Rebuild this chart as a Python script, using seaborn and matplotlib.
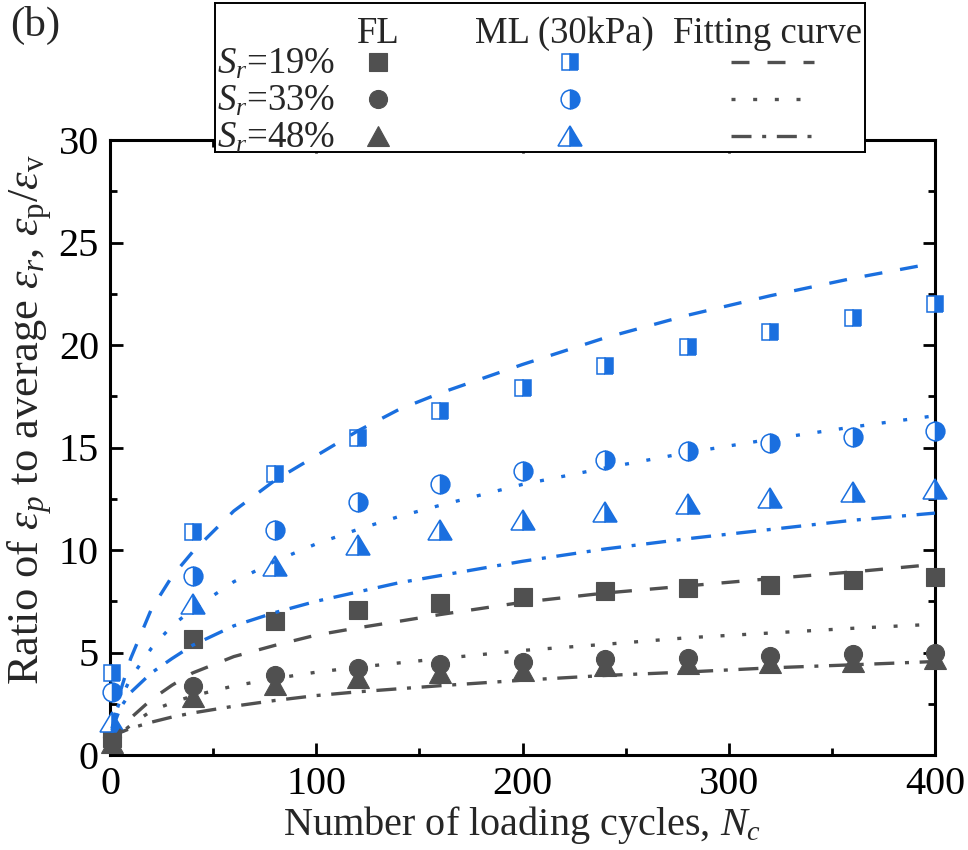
import matplotlib
matplotlib.use("Agg")
import matplotlib.pyplot as plt
from matplotlib.markers import MarkerStyle
from matplotlib.transforms import Affine2D
from matplotlib.ticker import MultipleLocator
import numpy as np
import pandas as pd
import seaborn as sns

# ---------------- data ----------------
cycles = [1, 40, 80, 120, 160, 200, 240, 280, 320, 360, 400]

fl_19 = [0.85, 5.64, 6.56, 7.05, 7.43, 7.72, 7.98, 8.17, 8.31, 8.52, 8.67]
fl_33 = [0.90, 3.38, 3.90, 4.23, 4.44, 4.55, 4.70, 4.75, 4.84, 4.93, 5.00]
fl_48 = [0.58, 2.84, 3.41, 3.74, 4.00, 4.12, 4.36, 4.44, 4.51, 4.56, 4.66]

ml_19 = [4.01, 10.90, 13.69, 15.45, 16.78, 17.89, 18.99, 19.89, 20.62, 21.30, 21.98]
ml_33 = [3.09, 8.75, 11.00, 12.33, 13.20, 13.85, 14.39, 14.83, 15.20, 15.53, 15.80]
ml_48 = [1.63, 7.35, 9.20, 10.26, 10.98, 11.46, 11.87, 12.24, 12.52, 12.81, 13.00]

fit_cycles = [1, 2, 5, 10, 20, 30, 40, 60, 80, 100, 120, 140, 160, 200, 240, 280, 320, 360, 400]
fit_ml_19 = [1.2, 1.8, 3.1, 4.7, 7.1, 8.7, 9.9, 11.9, 13.4, 14.6, 15.8, 16.85, 17.65, 19.05, 20.35, 21.45, 22.4, 23.25, 24.0]
fit_ml_33 = [1.3, 1.8, 2.7, 3.75, 5.2, 6.3, 7.1, 8.45, 9.45, 10.3, 11.0, 11.63, 12.18, 13.2, 14.0, 14.75, 15.4, 16.0, 16.55]
fit_ml_48 = [1.1, 1.5, 2.3, 3.05, 4.0, 4.7, 5.35, 6.3, 6.95, 7.5, 7.95, 8.4, 8.75, 9.45, 10.05, 10.55, 11.0, 11.45, 11.8]
fit_fl_19 = [0.5, 0.75, 1.2, 1.8, 2.7, 3.4, 4.0, 4.8, 5.35, 5.85, 6.2, 6.52, 6.85, 7.45, 7.9, 8.25, 8.6, 8.93, 9.3]
fit_fl_33 = [0.5, 0.7, 1.05, 1.45, 2.15, 2.55, 2.88, 3.37, 3.73, 4.04, 4.28, 4.49, 4.7, 5.1, 5.4, 5.72, 5.95, 6.18, 6.38]
fit_fl_48 = [0.7, 0.85, 1.1, 1.3, 1.6, 1.85, 2.05, 2.38, 2.66, 2.9, 3.08, 3.23, 3.38, 3.65, 3.88, 4.05, 4.25, 4.4, 4.56]

row_labels = [r"$S_r$=19%", r"$S_r$=33%", r"$S_r$=48%"]
col_labels = ["FL", "ML (30kPa)", "Fitting curve"]

# ---------------- style ----------------
sns.set_theme(style="ticks")
plt.rcParams.update({
    "font.family": ["Liberation Serif", "DejaVu Serif"],
    "mathtext.fontset": "custom",
    "mathtext.rm": "Liberation Serif",
    "mathtext.it": "Liberation Serif:italic",
    "mathtext.bf": "Liberation Serif:bold",
    "axes.linewidth": 2.2,
})

GRAY = "#505050"
BLUE = "#1A6FDF"
TICK_FS = 29
XLABEL_FS = 29
YLABEL_FS = 32
LW = 2.4

DASHED = (0, (5.4, 5.4))
DOTTED = (0, (1.2, 5.3))
DASHDOT = (0, (6.0, 3.2, 1.2, 3.2))

wide = Affine2D().scale(1.12, 1.0)


def tri(fill):
    return MarkerStyle("^", fillstyle=fill, transform=wide)


def sq(fill):
    return MarkerStyle("s", fillstyle=fill)


def circ(fill):
    return MarkerStyle("o", fillstyle=fill)


fl_series = [(fl_19, sq("full"), 12.5), (fl_33, circ("full"), 13.0), (fl_48, tri("full"), 14.5)]
ml_series = [(ml_19, sq("right"), 12.0), (ml_33, circ("right"), 13.5), (ml_48, tri("right"), 15.0)]
fits = [
    (fit_fl_19, GRAY, DASHED), (fit_fl_33, GRAY, DOTTED), (fit_fl_48, GRAY, DASHDOT),
    (fit_ml_19, BLUE, DASHED), (fit_ml_33, BLUE, DOTTED), (fit_ml_48, BLUE, DASHDOT),
]

fig = plt.figure(figsize=(9.68, 8.5), dpi=100)
ax = fig.add_axes([110 / 968, 1 - 755 / 850, 825 / 968, 615 / 850])

for vals, mk, ms in fl_series:
    sns.lineplot(x=cycles, y=vals, ax=ax, linestyle="", marker=mk, markersize=ms,
                 markerfacecolor=GRAY, markeredgecolor=GRAY, markeredgewidth=0.8,
                 color=GRAY, zorder=3, clip_on=False)

for vals, mk, ms in ml_series:
    sns.lineplot(x=cycles, y=vals, ax=ax, linestyle="", marker=mk, markersize=ms,
                 markerfacecolor=BLUE, markerfacecoloralt="white",
                 markeredgecolor=BLUE, markeredgewidth=1.1,
                 color=BLUE, zorder=3, clip_on=False)

for vals, col, ls in fits:
    sns.lineplot(x=fit_cycles, y=vals, ax=ax, color=col, linestyle=ls, linewidth=LW,
                 zorder=4, dash_capstyle="butt")

ax.set_xlim(0, 400)
ax.set_ylim(0, 30)
ax.xaxis.set_major_locator(MultipleLocator(100))
ax.xaxis.set_minor_locator(MultipleLocator(50))
ax.yaxis.set_major_locator(MultipleLocator(5))
ax.yaxis.set_minor_locator(MultipleLocator(2.5))
ax.tick_params(which="both", direction="in", top=True, right=True, width=2.0,
               labelsize=TICK_FS, colors="black")
ax.tick_params(which="major", length=9, pad=8)
ax.tick_params(which="minor", length=5)
for s in ax.spines.values():
    s.set_color("black")
    s.set_linewidth(2.2)

ax.set_xlabel(r"Number of loading cycles, $N_c$", fontsize=XLABEL_FS, labelpad=1)
ax.set_ylabel("")
fig.text(30 / 968, 1 - 420 / 850,
         r"Ratio of $\varepsilon_p$ to average $\varepsilon_r$, $\varepsilon_{\mathrm{p}}/\varepsilon_{\mathrm{v}}$",
         rotation=90, ha="center", va="center", fontsize=YLABEL_FS)

fig.text(10 / 968, 1 - 25 / 850, "(b)", ha="left", va="center", fontsize=31)

# ---------------- legend table ----------------
bx0, bx1, by0, by1 = 215, 865, 3, 152
lax = fig.add_axes([bx0 / 968, 1 - by1 / 850, (bx1 - bx0) / 968, (by1 - by0) / 850], zorder=5)
lax.set_xlim(bx0, bx1)
lax.set_ylim(by1, by0)
lax.set_xticks([])
lax.set_yticks([])
lax.set_facecolor("white")
for s in lax.spines.values():
    s.set_color("black")
    s.set_linewidth(1.4)

LFS = 26.5
col_x = [378, 564, 767]
row_y = [62, 99, 136]
for cx, lab in zip(col_x, col_labels):
    lax.text(cx, 43, lab, ha="center", va="baseline", fontsize=LFS)
for ry, lab in zip(row_y, row_labels):
    lax.text(217, ry + 12, lab, ha="left", va="baseline", fontsize=LFS)
for i, ry in enumerate(row_y):
    _, mk, ms = fl_series[i]
    lax.plot([378], [ry], linestyle="", marker=mk, markersize=ms,
             markerfacecolor=GRAY, markeredgecolor=GRAY, markeredgewidth=0.8)
    _, mk, ms = ml_series[i]
    lax.plot([570], [ry], linestyle="", marker=mk, markersize=ms,
             markerfacecolor=BLUE, markerfacecoloralt="white",
             markeredgecolor=BLUE, markeredgewidth=1.1)
    _, col, ls = fits[i]
    lax.plot([731, 814], [ry, ry], color=GRAY, linestyle=ls, linewidth=LW,
             dash_capstyle="butt")

fig.savefig("out.png", dpi=100)
